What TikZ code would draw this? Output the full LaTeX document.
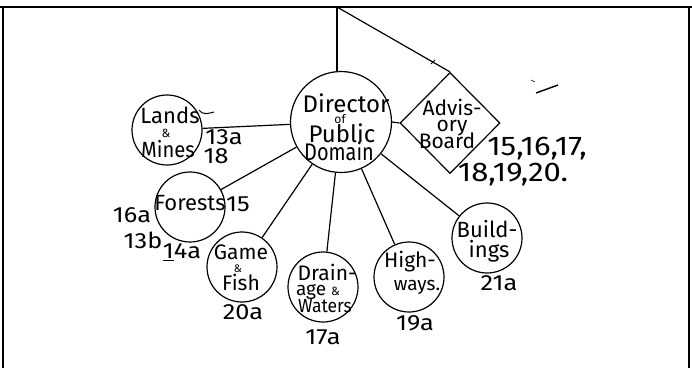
\documentclass[tikz,border=0pt]{standalone}
\usepackage{fontspec}
\usepackage{graphicx}
\setmainfont{Fira Sans}
\newfontfamily\widefont[FakeStretch=1.15]{Fira Sans}
\usetikzlibrary{shapes.geometric}
\begin{document}
\begin{tikzpicture}[x=1pt,y=-1pt,
  ln/.style={line width=1.2pt},
  unit/.style={circle,draw,line width=1.2pt,inner sep=0pt,minimum size=70pt},
  tx/.style={inner sep=0pt,anchor=base},
  t24/.style={tx,font=\fontsize{24}{24}\selectfont},
  t22/.style={tx,font=\fontsize{22}{22}\selectfont},
  t21/.style={tx,font=\fontsize{21}{21}\selectfont},
  t19/.style={tx,font=\fontsize{19}{19}\selectfont},
  amp/.style={tx,font=\fontsize{12}{12}\selectfont},
  lbl/.style={inner sep=0pt,font=\widefont\fontsize{22}{22}\selectfont},
  big/.style={inner sep=0pt,font=\widefont\fontsize{27}{27}\selectfont}]
\useasboundingbox (0,0) rectangle (692,368);
% frame
\draw[line width=2pt] (0,7) -- (692,7);
\draw[line width=1.6pt] (3,7) -- (3,368);
\draw[line width=1.6pt] (689,7) -- (689,368);
% shapes
\node[circle,draw,line width=1.2pt,inner sep=0pt,minimum size=101pt] (dir) at (341,122) {};
\node[diamond,draw,line width=1.2pt,inner sep=0pt,minimum width=100pt,minimum height=101pt] (adv) at (450,123) {};
\node[unit] (lands) at (167,130) {};
\node[unit,minimum width=66pt] (forests) at (190,207) {};
\node[unit] (game) at (242,267) {};
\node[unit] (drain) at (323,287) {};
\node[unit] (high) at (409,277) {};
\node[unit] (build) at (487,238) {};
% texts in shapes
\node[t24] (dir1) at (346,112) {Director};
\node[amp,font=\fontsize{12}{12}\selectfont] (dir2) at (340,123) {of};
\node[t24] (dir3) at (342,142) {Public};
\node[t24] (dir4) at (339,160) {\scalebox{0.83}[1]{Domain}};
\node[t21] (adv1) at (452,115) {Advis-};
\node[t21] (adv2) at (452,131) {ory};
\node[t21] (adv3) at (447,148) {Board};
\node[t22] (lands1) at (170,123) {Lands};
\node[amp] (lands2) at (166,137) {\&};
\node[t22] (lands3) at (168,157) {\scalebox{0.92}[1]{Mines}};
\node[t22] (forests1) at (190,210) {Forests};
\node[t21] (game1) at (241,259) {Game};
\node[amp,font=\fontsize{11}{11}\selectfont] (game2) at (238,272) {\&};
\node[t21] (game3) at (241,290) {Fish};
\node[t21] (drain1) at (327,280) {Drain-};
\node[t19] (drain2) at (318,295) {age {\fontsize{12}{12}\selectfont\&}};
\node[t19] (drain3) at (325,312) {\scalebox{0.92}[1]{Waters}};
\node[t21] (high1) at (410,267) {High-};
\node[t19] (high2) at (417,290) {ways.};
\node[t22] (build1) at (487,237) {Build-};
\node[t22] (build2) at (489,257) {ings};
\coordinate (top) at (337,7);
% connectors
\draw[ln] (top) -- (top |- dir.north);
\draw[ln] (top) -- (adv.north);
\draw[ln] (dir.east) -- (adv.west);
\draw[ln] (dir) -- (lands);
\draw[ln] (dir) -- (forests);
\draw[ln] (dir) -- (game);
\draw[ln] (dir) -- (drain);
\draw[ln] (dir) -- (high);
\draw[ln] (dir) -- (build);
% labels
\node[lbl] (l13a) at (224,137) {13a};
\node[lbl] (l18) at (216,156) {18};
\node[lbl] (l15) at (238,204) {15};
\node[lbl] (l16a) at (132,215) {16a};
\node[lbl] (l13b) at (143,240) {13b};
\node[lbl] (l14a) at (182,252) {\underline{1}4a};
\node[lbl] (l20a) at (243,312) {20a};
\node[lbl] (l17a) at (323,337) {17a};
\node[lbl] (l19a) at (415,323) {19a};
\node[lbl] (l21a) at (499,283) {21a};
\node[big] (board1) at (537,149) {15,16,17,};
\node[big] (board2) at (513,175) {18,19,20.};
% stray pen marks
\draw[line width=1pt] (199,110) .. controls (204,116) and (209,113) .. (214,112);
\draw[line width=0.8pt] (431,64) -- (435,60);
\draw[line width=1.4pt] (536,93) -- (558,85);
\draw[line width=0.6pt] (531,80) -- (535,82);
\end{tikzpicture}
\end{document}
